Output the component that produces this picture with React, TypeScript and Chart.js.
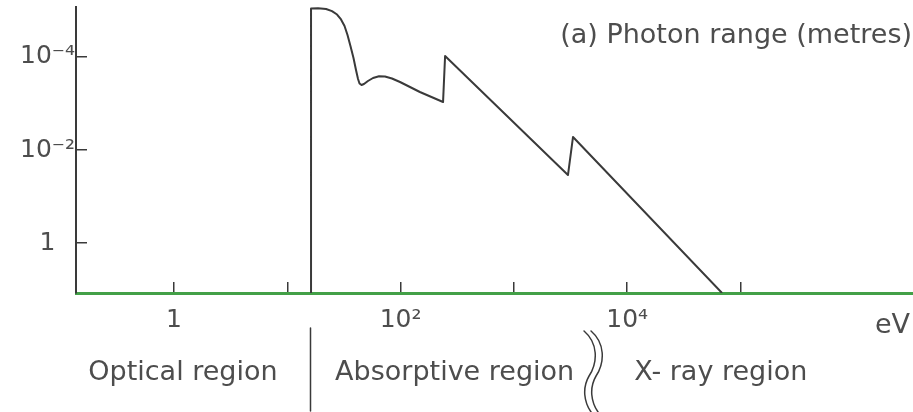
import { useEffect, useRef } from "react";
import { Chart, registerables } from "chart.js";

Chart.register(...registerables);

const FONT = "'DejaVu Sans', 'Noto Sans', sans-serif";
const TEXT = "#4d4d4d";
const INK = "#3a3a3a";
const AXIS_GREEN = "#43a047";

// Photon energy (eV) against photon range (metres)
const energyEV = [
  16.2, 16.2, 18.7, 22.0, 24.8, 27.5, 29.8, 32.0, 34.0, 36.1, 38.4, 40.4, 42.1,
  43.4, 45.2, 47.5, 51.5, 57.1, 64.5, 72.8, 83.9, 98.8, 121, 148, 237, 247,
  3000, 3325, 68700,
];
const rangeM = [
  11.885, 9.06e-6, 8.93e-6, 9.29e-6, 1.03e-5, 1.22e-5, 1.56e-5, 2.15e-5,
  3.36e-5, 5.8e-5, 1.05e-4, 1.9e-4, 2.97e-4, 3.72e-4, 4.0e-4, 3.81e-4, 3.28e-4,
  2.83e-4, 2.6e-4, 2.62e-4, 2.9e-4, 3.45e-4, 4.42e-4, 5.66e-4, 9.3e-4, 9.5e-5,
  3.45e-2, 5.25e-3, 11.885,
];

// Axis extents
const energyMin = 0.1365;
const energyMax = 3.33e6;
const rangeMin = 8.41e-6;
const rangeMax = 11.885;

// Tick marks and their labels
const energyTicks = [1, 10, 100, 1e3, 1e4, 1e5];
const energyTickLabels = ["1", "", "10²", "", "10⁴", ""];
const rangeTicks = [1e-4, 1e-2, 1];
const rangeTickLabels = ["10⁻⁴", "10⁻²", "1"];

// Spectral regions along the energy axis
const regionNames = ["Optical region", "Absorptive region", "X- ray region"];
const regionCentresEV = [1.2, 300, 67000];
const regionBreaksEV = [16.2, 4700];

const titleText = "(a) Photon range (metres)";
const unitText = "eV";

const annotations = {
  id: "regionAnnotations",
  afterDraw(chart: any) {
    const ctx = chart.ctx as CanvasRenderingContext2D;
    const xs = chart.scales.x;
    const area = chart.chartArea;
    ctx.save();
    ctx.fillStyle = TEXT;
    ctx.font = `27px ${FONT}`;
    ctx.textBaseline = "alphabetic";
    ctx.textAlign = "center";
    regionNames.forEach((name, i) => {
      ctx.fillText(name, xs.getPixelForValue(regionCentresEV[i]), 380);
    });

    ctx.strokeStyle = INK;
    ctx.lineWidth = 1.5;
    ctx.lineCap = "round";
    // plain divider between optical and absorptive regions
    const sx = Math.round(xs.getPixelForValue(regionBreaksEV[0])) - 0.5;
    ctx.beginPath();
    ctx.moveTo(sx, 328);
    ctx.lineTo(sx, 411);
    ctx.stroke();

    // double wavy divider before the X-ray region
    const bx = xs.getPixelForValue(regionBreaksEV[1]);
    for (const off of [0, 7]) {
      const x0 = bx + off;
      ctx.beginPath();
      ctx.moveTo(x0 - 6, 331);
      ctx.bezierCurveTo(x0 + 8, 343, x0 + 8, 362, x0 - 1, 376);
      ctx.bezierCurveTo(x0 - 8, 388, x0 - 6, 402, x0 + 1, 412);
      ctx.stroke();
    }

    ctx.textAlign = "right";
    ctx.fillText(titleText, area.right - 1, 43);
    ctx.fillText(unitText, area.right - 3, 333);
    ctx.restore();
  },
};

export default function App() {
  const canvasRef = useRef<HTMLCanvasElement | null>(null);

  useEffect(() => {
    if (!canvasRef.current) return;
    const points = energyEV.map((e, i) => ({ x: e, y: rangeM[i] }));

    const chart = new Chart(canvasRef.current, {
      type: "line",
      data: {
        datasets: [
          {
            data: points,
            borderColor: INK,
            borderWidth: 2,
            borderJoinStyle: "round",
            pointRadius: 0,
            tension: 0,
            fill: false,
          },
        ],
      },
      options: {
        responsive: false,
        animation: false,
        events: [],
        layout: { padding: { top: 7, right: 0, left: 0, bottom: 0 } },
        plugins: {
          legend: { display: false },
          tooltip: { enabled: false },
        },
        scales: {
          x: {
            type: "logarithmic",
            min: energyMin,
            max: energyMax,
            afterBuildTicks: (scale: any) => {
              scale.ticks = energyTicks.map((v) => ({ value: v }));
            },
            afterFit: (scale: any) => {
              scale.height = 119;
              scale.paddingLeft = 0;
              scale.paddingRight = 0;
            },
            border: { display: true, color: AXIS_GREEN, width: 3 },
            grid: {
              display: true,
              drawOnChartArea: false,
              drawTicks: true,
              tickLength: -11,
              color: INK,
              lineWidth: 1.5,
            },
            ticks: {
              autoSkip: false,
              maxRotation: 0,
              padding: 23,
              color: TEXT,
              font: { family: FONT, size: 25 },
              callback: (value: any) => {
                const i = energyTicks.findIndex(
                  (t) => Math.abs(Math.log10(t) - Math.log10(Number(value))) < 1e-6
                );
                return i >= 0 ? energyTickLabels[i] : "";
              },
            },
          },
          y: {
            type: "logarithmic",
            reverse: true,
            min: rangeMin,
            max: rangeMax,
            afterBuildTicks: (scale: any) => {
              scale.ticks = rangeTicks.map((v) => ({ value: v }));
            },
            afterFit: (scale: any) => {
              scale.width = 76;
              scale.paddingTop = 0;
              scale.paddingBottom = 0;
            },
            border: { display: true, color: INK, width: 2 },
            grid: {
              display: true,
              drawOnChartArea: false,
              drawTicks: true,
              tickLength: -11,
              color: INK,
              lineWidth: 1.5,
            },
            ticks: {
              autoSkip: false,
              crossAlign: "center",
              padding: 12,
              color: TEXT,
              font: { family: FONT, size: 25 },
              callback: (value: any) => {
                const i = rangeTicks.findIndex(
                  (t) => Math.abs(Math.log10(t) - Math.log10(Number(value))) < 1e-6
                );
                return i >= 0 ? rangeTickLabels[i] : "";
              },
            },
          },
        },
      },
      plugins: [annotations],
    });

    return () => chart.destroy();
  }, []);

  return (
    <div style={{ position: "absolute", left: 0, top: 0, width: 913, height: 412, background: "#ffffff" }}>
      <canvas ref={canvasRef} width={913} height={412} style={{ display: "block" }} />
    </div>
  );
}
